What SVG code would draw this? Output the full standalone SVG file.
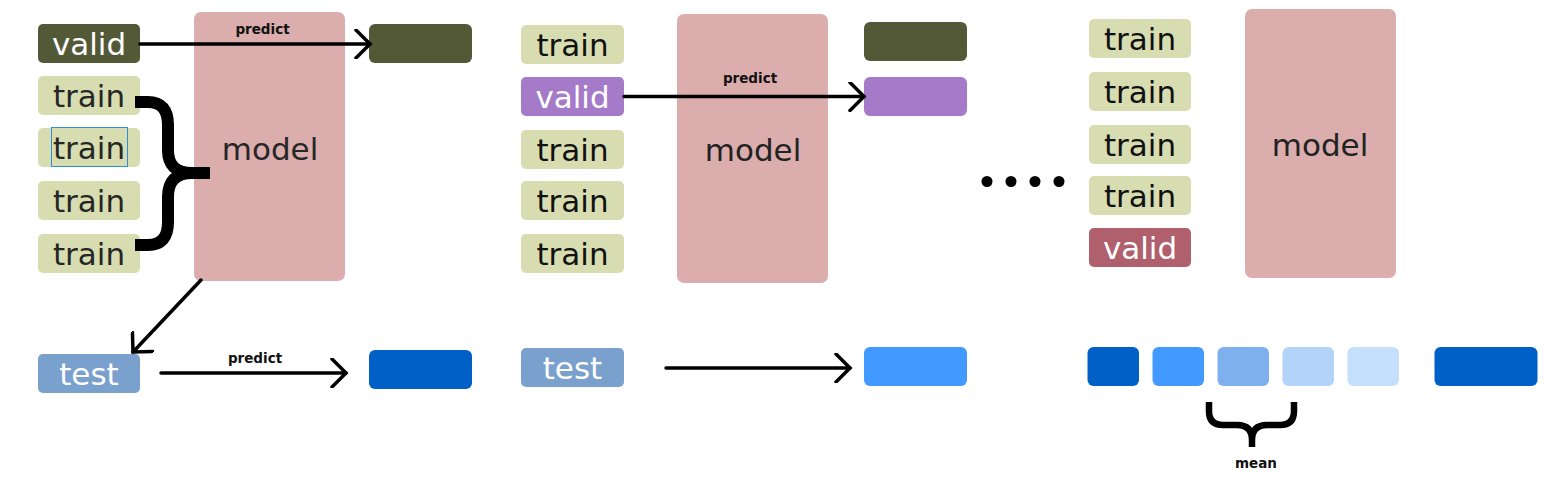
<svg xmlns="http://www.w3.org/2000/svg" width="1567" height="499" viewBox="0 0 1567 499">
<style>
text{font-family:"DejaVu Sans","Liberation Sans",sans-serif}
.lbl{font-size:31px;text-anchor:middle}
.lab{font-size:13.5px;font-weight:bold;text-anchor:middle;fill:#111}
.tr{fill:#d7ddb0}
.model{fill:#dbadad}
.ln{stroke:#000;stroke-width:3.5;fill:none;stroke-linecap:round;stroke-linejoin:round}
</style>
<defs>
<marker id="ah" viewBox="0 0 20 30" refX="16" refY="15" markerWidth="20" markerHeight="30" markerUnits="userSpaceOnUse" orient="auto">
<path d="M2,1 L16,15 L2,29" fill="none" stroke="#000" stroke-width="3.5" stroke-linecap="round" stroke-linejoin="miter"/>
</marker>
</defs>
<rect width="1567" height="499" fill="#fff"/>

<!-- Panel 1 -->
<g id="p1-model"><rect class="model" x="194" y="12" width="151" height="269" rx="7"/><text class="lbl" x="270" y="160" fill="#262626">model</text></g>
<g id="p1-valid"><rect x="38" y="24" width="102" height="39" rx="5" fill="#535837"/><text class="lbl" x="89" y="55" fill="#fff">valid</text></g>
<g id="p1-train1"><rect class="tr" x="38" y="76" width="102" height="39" rx="5"/><text class="lbl" x="89" y="107" fill="#262626">train</text></g>
<g id="p1-train2"><rect class="tr" x="38" y="128" width="102" height="39" rx="5"/><text class="lbl" x="89" y="159" fill="#262626">train</text><rect x="51.5" y="127.5" width="76" height="39" fill="none" stroke="#2b90d9" stroke-width="1"/></g>
<g id="p1-train3"><rect class="tr" x="38" y="181" width="102" height="39" rx="5"/><text class="lbl" x="89" y="212" fill="#262626">train</text></g>
<g id="p1-train4"><rect class="tr" x="38" y="234" width="102" height="39" rx="5"/><text class="lbl" x="89" y="265" fill="#262626">train</text></g>
<g id="p1-out"><rect x="369" y="24" width="103" height="39" rx="6" fill="#535837"/></g>
<g id="p1-test"><rect x="38" y="354" width="102" height="39" rx="5" fill="#7aa0cd"/><text class="lbl" x="89" y="385" fill="#fff">test</text></g>
<g id="p1-testout"><rect x="369" y="350" width="103" height="39" rx="6" fill="#0060c8"/></g>

<!-- Panel 2 -->
<g id="p2-model"><rect class="model" x="677" y="14" width="151" height="269" rx="7"/><text class="lbl" x="753" y="161" fill="#222">model</text></g>
<g id="p2-train1"><rect class="tr" x="521" y="25" width="103" height="39" rx="5"/><text class="lbl" x="572.5" y="56" fill="#111">train</text></g>
<g id="p2-valid"><rect x="521" y="77" width="103" height="39" rx="5" fill="#a57ac9"/><text class="lbl" x="572.5" y="108" fill="#fff">valid</text></g>
<g id="p2-train2"><rect class="tr" x="521" y="130" width="103" height="39" rx="5"/><text class="lbl" x="572.5" y="161" fill="#111">train</text></g>
<g id="p2-train3"><rect class="tr" x="521" y="181" width="103" height="39" rx="5"/><text class="lbl" x="572.5" y="212" fill="#111">train</text></g>
<g id="p2-train4"><rect class="tr" x="521" y="234" width="103" height="39" rx="5"/><text class="lbl" x="572.5" y="265" fill="#111">train</text></g>
<g id="p2-out1"><rect x="864" y="22" width="103" height="39" rx="6" fill="#535837"/></g>
<g id="p2-out2"><rect x="864" y="77" width="103" height="39" rx="6" fill="#a57ac9"/></g>
<g id="p2-test"><rect x="521" y="348" width="103" height="39" rx="5" fill="#7aa0cd"/><text class="lbl" x="572.5" y="379" fill="#fff">test</text></g>
<g id="p2-testout"><rect x="864" y="347" width="103" height="39" rx="6" fill="#4299ff"/></g>

<!-- ellipsis -->
<g id="dots" fill="#000"><circle cx="987" cy="181.5" r="5.5"/><circle cx="1011" cy="181.5" r="5.5"/><circle cx="1035" cy="181.5" r="5.5"/><circle cx="1059" cy="181.5" r="5.5"/></g>

<!-- Panel 3 -->
<g id="p3-model"><rect class="model" x="1245" y="9" width="151" height="269" rx="7"/><text class="lbl" x="1320" y="156" fill="#222">model</text></g>
<g id="p3-train1"><rect class="tr" x="1089" y="19" width="102" height="39" rx="5"/><text class="lbl" x="1140" y="50" fill="#111">train</text></g>
<g id="p3-train2"><rect class="tr" x="1089" y="72" width="102" height="39" rx="5"/><text class="lbl" x="1140" y="103" fill="#111">train</text></g>
<g id="p3-train3"><rect class="tr" x="1089" y="125" width="102" height="39" rx="5"/><text class="lbl" x="1140" y="156" fill="#111">train</text></g>
<g id="p3-train4"><rect class="tr" x="1089" y="176" width="102" height="39" rx="5"/><text class="lbl" x="1140" y="207" fill="#111">train</text></g>
<g id="p3-valid"><rect x="1089" y="228" width="102" height="39" rx="5" fill="#b05f6d"/><text class="lbl" x="1140" y="259" fill="#fff">valid</text></g>
<g id="p3-r1"><rect x="1087.5" y="347" width="51.5" height="39" rx="6" fill="#0060c8"/></g>
<g id="p3-r2"><rect x="1152.5" y="347" width="51.5" height="39" rx="6" fill="#4299ff"/></g>
<g id="p3-r3"><rect x="1217.5" y="347" width="51.5" height="39" rx="6" fill="#7fb0ee"/></g>
<g id="p3-r4"><rect x="1282.5" y="347" width="51.5" height="39" rx="6" fill="#b3d4f8"/></g>
<g id="p3-r5"><rect x="1347.5" y="347" width="51.5" height="39" rx="6" fill="#c5e0fd"/></g>
<g id="p3-final"><rect x="1434.5" y="347" width="103" height="39" rx="6" fill="#0060c8"/></g>

<!-- connectors -->
<g id="connectors">
<line class="ln" x1="140" y1="44" x2="370" y2="44" marker-end="url(#ah)"/>
<text class="lab" x="262.5" y="34">predict</text>
<path d="M135,102 H148 Q168,102 168,125 V150 Q168,173 192,173 H210 M192,173 Q168,173 168,197 V222 Q168,245 148,245 H135" fill="none" stroke="#000" stroke-width="12"/>
<line class="ln" x1="201" y1="280" x2="133" y2="352" marker-end="url(#ah)"/>
<line class="ln" x1="161" y1="373" x2="346" y2="373" marker-end="url(#ah)"/>
<text class="lab" x="255" y="363">predict</text>
<line class="ln" x1="624" y1="96.5" x2="864" y2="96.5" marker-end="url(#ah)"/>
<text class="lab" x="750" y="83">predict</text>
<line class="ln" x1="666" y1="368" x2="850" y2="368" marker-end="url(#ah)"/>
<path d="M1209,402 V411 Q1209,425 1223,425 H1237 Q1252,425 1252,440 V447 M1252,440 Q1252,425 1267,425 H1280 Q1294,425 1294,411 V402" fill="none" stroke="#000" stroke-width="6.5"/>
<text class="lab" x="1256" y="468">mean</text>
</g>
</svg>
